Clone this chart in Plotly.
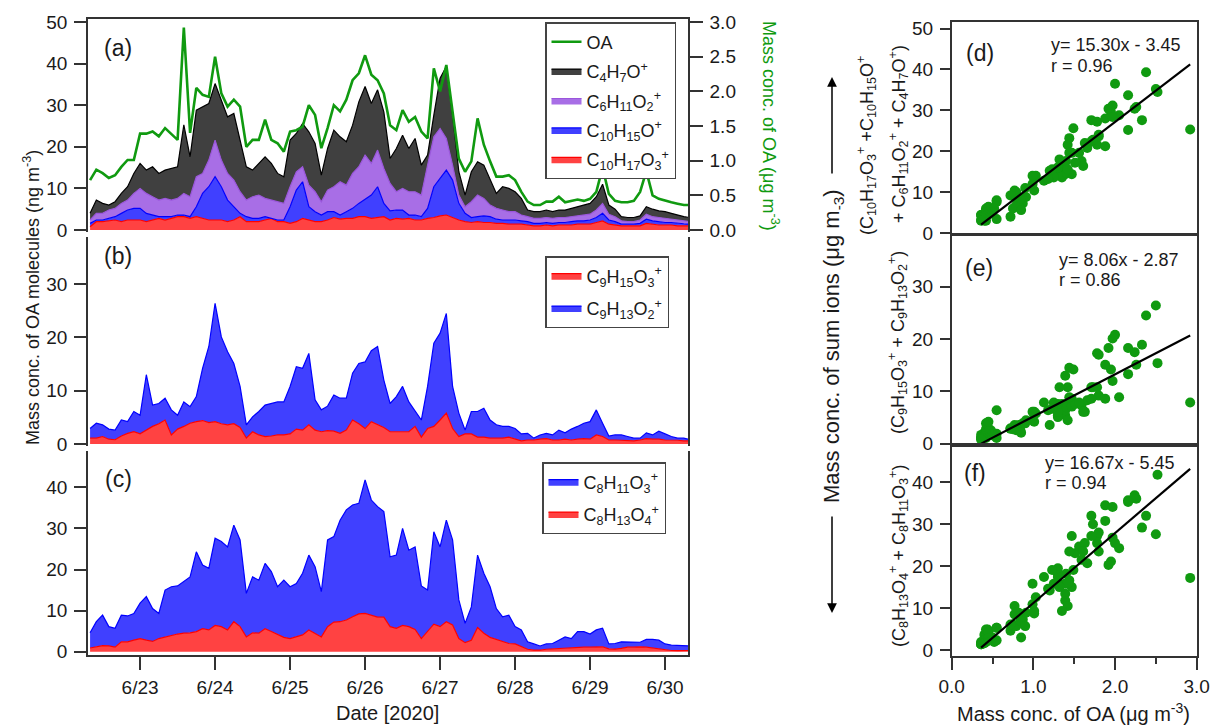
import numpy as np
import pandas as pd
import plotly.graph_objects as go

# ---------------- data (2-hourly, 2020-06-22 08:00 .. 2020-06-30 08:00) ----------------
times = pd.date_range("2020-06-22 08:00", "2020-06-30 08:00", freq="2h")

# OA mass concentration (ug m-3)
OA = [0.72, 0.87, 0.82, 0.75, 0.79, 0.91, 1.01, 1.01,
      1.39, 1.39, 1.42, 1.35, 1.47, 1.39, 1.30, 2.92, 1.40, 2.05, 1.95, 1.92,
      2.50, 1.97, 1.78, 1.88, 1.78, 1.20, 1.30, 1.30, 1.59, 1.30, 1.25, 1.13,
      1.42, 1.44, 1.49, 1.80, 1.66, 1.18, 1.47, 1.80, 1.71, 1.88, 2.16, 2.26,
      2.52, 2.24, 2.16, 1.97, 1.51, 1.44, 1.73, 1.56, 1.63, 1.42, 1.32, 2.33,
      2.00, 2.38, 1.71, 1.03, 0.84, 0.99, 1.61, 1.23, 0.99, 0.77, 0.77, 0.79,
      0.72, 0.55, 0.41, 0.36, 0.36, 0.41, 0.41, 0.48, 0.40, 0.42, 0.44, 0.42,
      0.45, 0.55, 0.90, 0.52, 0.42, 0.40, 0.40, 0.42, 0.55, 0.85, 0.50, 0.45,
      0.42, 0.40, 0.38, 0.36, 0.36]

# panel (a): stacked boundaries (ng m-3)
C10H17O3 = [0.8, 2.0, 2.0, 2.2, 2.4, 2.0, 2.4, 2.4,
            2.4, 2.0, 2.4, 2.8, 2.4, 2.8, 3.2, 3.2, 2.8, 3.2, 2.8, 2.4,
            2.4, 2.4, 2.0, 2.4, 3.2, 2.0, 2.0, 2.0, 2.4, 2.8, 2.0, 2.0,
            1.6, 2.0, 2.8, 2.4, 2.0, 2.0, 2.4, 3.0, 2.6, 2.8, 2.8, 3.2,
            3.2, 2.8, 3.0, 3.2, 2.4, 2.8, 2.6, 2.8, 2.4, 2.4, 2.8, 3.0,
            3.4, 3.6, 3.0, 2.4, 2.0, 1.8, 2.0, 1.8, 1.8, 1.6, 1.6, 1.4,
            1.4, 1.4, 1.2, 1.0, 1.0, 1.2, 1.0, 1.2, 1.2, 1.2, 1.4, 1.4,
            1.4, 1.8, 2.2, 1.4, 1.2, 1.0, 1.0, 1.0, 1.0, 1.6, 1.4, 1.2,
            1.2, 1.2, 1.0, 1.0, 1.0]
upto_C10H15O = [1.6, 2.4, 2.4, 2.8, 3.2, 4.0, 4.8, 5.2,
                5.2, 4.0, 3.6, 3.2, 3.2, 3.2, 3.6, 3.6, 3.2, 5.6, 8.8, 10.4,
                12.8, 10.4, 7.2, 5.6, 4.0, 3.2, 2.8, 2.8, 3.2, 2.8, 2.4, 2.4,
                5.6, 9.6, 11.6, 5.6, 4.4, 3.6, 4.4, 4.4, 3.6, 4.4, 5.2, 6.4,
                7.5, 8.4, 10.4, 6.4, 4.6, 4.8, 4.8, 3.6, 3.6, 3.2, 5.2, 10.4,
                12.4, 14.4, 12.0, 6.4, 4.0, 3.0, 3.2, 3.4, 3.2, 2.6, 2.4, 2.4,
                2.4, 2.2, 2.0, 1.6, 1.6, 1.8, 1.6, 1.8, 1.8, 2.0, 2.2, 2.2,
                2.4, 3.0, 4.0, 2.4, 2.0, 1.4, 1.4, 1.4, 1.6, 2.6, 2.2, 2.0,
                1.8, 1.8, 1.6, 1.5, 1.4]
upto_C6H11O2 = [2.4, 4.0, 4.0, 4.8, 5.2, 6.4, 7.2, 8.8,
                10.0, 8.8, 8.0, 7.2, 7.6, 7.2, 7.6, 8.8, 8.0, 12.8, 13.6, 16.8,
                21.6, 16.8, 13.6, 12.0, 9.2, 7.2, 8.0, 8.4, 7.6, 7.2, 6.8, 6.4,
                10.4, 14.0, 15.2, 10.8, 9.2, 6.8, 9.6, 10.4, 11.6, 10.8, 13.6, 15.2,
                18.0, 16.0, 19.2, 14.8, 11.2, 9.2, 10.0, 9.2, 9.2, 8.4, 15.6, 22.4,
                24.4, 22.0, 15.6, 8.4, 5.6, 6.8, 8.4, 7.6, 6.0, 5.2, 4.8, 4.4,
                4.4, 3.6, 3.2, 2.8, 2.8, 3.0, 2.8, 3.0, 3.0, 3.2, 3.4, 3.6,
                3.8, 4.8, 6.4, 3.8, 3.2, 2.2, 2.0, 2.0, 2.4, 3.8, 3.2, 3.0,
                2.8, 2.6, 2.4, 2.2, 2.0]
upto_C4H7O = [4.0, 7.2, 6.4, 6.0, 6.8, 8.8, 10.4, 13.6,
              16.0, 14.4, 15.2, 13.6, 14.4, 14.8, 15.2, 25.3, 17.6, 28.8, 29.6, 30.4,
              35.2, 31.2, 27.2, 28.0, 21.6, 15.2, 14.4, 16.0, 17.6, 16.0, 13.6, 12.8,
              21.6, 23.2, 25.6, 23.6, 20.8, 13.2, 19.6, 24.0, 22.4, 21.2, 25.2, 30.8,
              34.5, 30.4, 33.7, 28.4, 17.2, 19.6, 22.8, 19.6, 22.0, 15.6, 18.0, 27.6,
              36.5, 39.3, 27.6, 14.0, 8.4, 14.0, 16.4, 15.6, 12.0, 8.8, 10.4, 10.0,
              9.2, 7.6, 4.8, 4.4, 4.4, 4.8, 4.4, 4.8, 4.8, 5.2, 5.6, 6.0,
              6.4, 8.0, 11.0, 6.0, 5.0, 3.2, 3.0, 3.0, 3.4, 5.6, 5.0, 4.6,
              4.4, 4.0, 3.6, 3.2, 3.0]

# panel (b)
C9H15O3 = [1.1, 1.1, 1.4, 0.9, 0.8, 1.5, 2.0, 2.3,
           1.9, 2.6, 3.3, 3.8, 4.5, 1.7, 2.8, 3.3, 3.9, 4.2, 4.4, 4.0,
           4.2, 3.8, 3.6, 3.8, 3.1, 1.1, 2.3, 1.7, 1.4, 1.5, 1.7, 1.7,
           1.9, 2.8, 2.6, 3.6, 2.6, 2.3, 2.5, 2.4, 2.0, 2.6, 4.5, 3.8,
           2.9, 4.2, 3.6, 3.1, 2.3, 2.3, 2.3, 2.3, 3.3, 1.3, 2.9, 3.3,
           4.5, 5.8, 2.9, 1.4, 1.9, 1.9, 1.3, 1.3, 1.1, 1.1, 1.1, 1.3,
           1.0, 0.6, 0.75, 0.75, 0.9, 1.0, 0.75, 0.75, 0.9, 0.75, 0.9, 1.0,
           0.9, 1.7, 1.4, 0.75, 0.75, 0.7, 0.7, 0.6, 0.75, 1.0, 0.9, 0.9,
           0.75, 0.75, 0.7, 0.6, 0.6]
upto_C9H13O2 = [2.9, 3.9, 3.6, 2.8, 2.6, 4.5, 4.2, 6.1,
                5.4, 13.0, 7.3, 7.6, 8.6, 6.4, 5.4, 7.9, 7.0, 8.9, 14.2, 18.3,
                26.4, 20.1, 17.3, 15.1, 10.8, 3.6, 5.1, 6.1, 7.3, 7.6, 7.9, 7.9,
                10.8, 14.5, 14.2, 17.0, 8.3, 6.4, 7.1, 9.2, 8.6, 8.6, 13.3, 15.1,
                15.4, 17.5, 18.3, 12.0, 7.6, 8.9, 10.8, 7.9, 6.1, 4.5, 10.8, 18.9,
                20.8, 24.5, 10.8, 5.8, 2.6, 6.1, 6.1, 6.7, 4.5, 3.6, 3.3, 3.3,
                2.9, 1.9, 2.0, 1.1, 1.7, 2.0, 1.7, 2.6, 2.1, 2.8, 3.3, 3.9,
                4.2, 6.4, 3.9, 1.5, 1.7, 1.7, 1.4, 1.1, 1.1, 2.1, 1.7, 2.4,
                1.9, 1.4, 1.1, 1.1, 0.8]

# panel (c)
C8H13O4 = [0.9, 1.2, 1.5, 1.4, 1.1, 2.4, 2.4, 2.8,
           3.2, 2.8, 2.5, 3.2, 3.6, 4.0, 4.3, 4.5, 4.6, 4.9, 5.6, 5.3,
           6.4, 6.1, 5.3, 7.3, 6.1, 3.6, 4.6, 4.5, 5.6, 4.9, 4.1, 3.5,
           3.2, 3.6, 4.1, 5.3, 4.5, 3.6, 6.1, 7.2, 7.3, 7.7, 8.5, 9.2,
           9.3, 8.8, 8.4, 8.4, 6.1, 5.7, 6.4, 6.1, 5.4, 3.2, 4.9, 6.7,
           6.1, 7.3, 6.5, 3.2, 2.2, 2.8, 5.9, 4.5, 3.5, 3.0, 2.4, 2.0,
           1.9, 1.2, 0.6, 0.4, 0.4, 0.6, 0.7, 0.8, 0.8, 1.0, 1.1, 1.1,
           1.1, 1.2, 1.2, 0.7, 0.65, 0.8, 1.1, 1.1, 1.2, 1.1, 0.9, 0.65,
           0.5, 0.3, 0.25, 0.25, 0.3]
upto_C8H11O3 = [4.6, 7.3, 8.9, 6.1, 5.7, 8.9, 8.7, 9.3,
                11.8, 13.4, 10.5, 9.3, 15.0, 15.8, 16.0, 17.2, 18.2, 24.3, 21.1, 20.3,
                27.6, 26.8, 25.5, 30.8, 27.2, 14.2, 18.2, 17.4, 21.5, 19.5, 15.8, 17.4,
                15.8, 16.6, 19.1, 23.5, 20.7, 14.6, 27.2, 28.0, 32.0, 34.5, 35.7, 36.1,
                41.8, 36.9, 35.3, 34.1, 23.1, 23.5, 30.0, 24.7, 25.5, 16.0, 15.0, 29.2,
                25.5, 32.0, 27.2, 12.6, 6.9, 10.9, 23.5, 19.1, 15.8, 10.5, 8.5, 8.9,
                6.1, 5.3, 2.4, 1.9, 1.4, 1.9, 2.0, 2.8, 3.6, 3.2, 4.9, 4.9,
                4.3, 5.3, 5.7, 1.9, 2.0, 2.4, 2.4, 2.4, 2.3, 3.0, 3.0, 2.8,
                1.9, 1.6, 1.5, 1.4, 1.4]

# linear fits shown in (d), (e), (f): slope, intercept, r
FIT_D = (15.30, -3.45, 0.96)
FIT_E = (8.06, -2.87, 0.86)
FIT_F = (16.67, -5.45, 0.94)

# ---------------- styling ----------------
W, H = 1214, 727
FONT = "Liberation Sans, Arial, sans-serif"
AX = "#333333"
INK = "#1a1a1a"
GREEN = "#109a10"
RED_L, RED_F = "#ff0000", "#ff4242"
BLUE_L, BLUE_F = "#0000ff", "#4040ff"
PUR_L, PUR_F = "#9a55dc", "#a86ee6"
BLK_L, BLK_F = "#000000", "#404040"


def fx(p):
    return p / W


def fy(p):
    return 1 - p / H


OA = np.array(OA)
red_a = np.array(C10H17O3)
blue_a = np.array(upto_C10H15O) - red_a
pur_a = np.array(upto_C6H11O2) - np.array(upto_C10H15O)
blk_a = np.array(upto_C4H7O) - np.array(upto_C6H11O2)
red_b = np.array(C9H15O3)
blue_b = np.array(upto_C9H13O2) - red_b
red_c = np.array(C8H13O4)
blue_c = np.array(upto_C8H11O3) - red_c

fig = go.Figure()


def area(y, group, lc, fc, name, xa, ya, leg, rank):
    fig.add_trace(go.Scatter(x=times, y=y, stackgroup=group, mode="lines",
                             line=dict(color=lc, width=1.2), fillcolor=fc,
                             name=name, legendgroup=name, legendrank=rank,
                             xaxis=xa, yaxis=ya, legend=leg, hoverinfo="skip"))


# (a)  legend order: OA, C4H7O, C6H11O2, C10H15O, C10H17O3
area(red_a, "a", RED_L, RED_F, "C<sub>10</sub>H<sub>17</sub>O<sub>3</sub><sup>+</sup>", "x2", "y2", "legend", 5)
area(blue_a, "a", BLUE_L, BLUE_F, "C<sub>10</sub>H<sub>15</sub>O<sup>+</sup>", "x2", "y2", "legend", 4)
area(pur_a, "a", PUR_L, PUR_F, "C<sub>6</sub>H<sub>11</sub>O<sub>2</sub><sup>+</sup>", "x2", "y2", "legend", 3)
area(blk_a, "a", BLK_L, BLK_F, "C<sub>4</sub>H<sub>7</sub>O<sup>+</sup>", "x2", "y2", "legend", 2)
fig.add_trace(go.Scatter(x=times, y=OA, mode="lines", line=dict(color=GREEN, width=2.6),
                         name="OA", legendgroup="OA", legendrank=1,
                         xaxis="x2", yaxis="y3", legend="legend"))
# (b)
area(red_b, "b", RED_L, RED_F, "C<sub>9</sub>H<sub>15</sub>O<sub>3</sub><sup>+</sup>", "x3", "y4", "legend2", 1)
area(blue_b, "b", BLUE_L, BLUE_F, "C<sub>9</sub>H<sub>13</sub>O<sub>2</sub><sup>+</sup>", "x3", "y4", "legend2", 2)
# (c)
area(red_c, "c", RED_L, RED_F, "C<sub>8</sub>H<sub>13</sub>O<sub>4</sub><sup>+</sup>", "x", "y", "legend3", 2)
area(blue_c, "c", BLUE_L, BLUE_F, "C<sub>8</sub>H<sub>11</sub>O<sub>3</sub><sup>+</sup>", "x", "y", "legend3", 1)

# scatter panels
xfit = np.array([OA.min(), OA.max()])
for ysum, fit, xa, ya in [(upto_C4H7O, FIT_D, "x4", "y5"),
                          (upto_C9H13O2, FIT_E, "x5", "y6"),
                          (upto_C8H11O3, FIT_F, "x6", "y7")]:
    fig.add_trace(go.Scatter(x=OA, y=ysum, mode="markers",
                             marker=dict(color=GREEN, size=10, line=dict(width=0)),
                             xaxis=xa, yaxis=ya, showlegend=False))
    fig.add_trace(go.Scatter(x=xfit, y=fit[0] * xfit + fit[1], mode="lines",
                             line=dict(color="black", width=2.2),
                             xaxis=xa, yaxis=ya, showlegend=False))

# ---------------- axes ----------------
XR = ["2020-06-22 07:20", "2020-06-30 07:20"]
LD = [fx(88), fx(688)]
SD = [fx(951.7), fx(1196.7)]
TF = dict(family=FONT, size=19, color=INK)


def yax(dom, rng, dtick, anchor, mirror=False, **kw):
    d = dict(domain=dom, range=rng, dtick=dtick, anchor=anchor, showline=True,
             linecolor=AX, linewidth=1.5, ticks="outside", ticklen=12, tickwidth=1.5,
             tickcolor=AX, showgrid=False, zeroline=False, mirror=mirror,
             tickfont=TF, ticklabelstandoff=3)
    d.update(kw)
    return d


layout = dict(
    width=W, height=H, margin=dict(l=0, r=0, t=0, b=0, autoexpand=False), autosize=False,
    paper_bgcolor="white", plot_bgcolor="white",
    font=dict(family=FONT, size=18, color=INK),
    # (c) time axis
    xaxis=dict(domain=LD, anchor="y", range=XR, type="date", showline=True, linecolor=AX,
               linewidth=1.5, ticks="outside", ticklen=13, tickwidth=1.5, tickcolor=AX,
               tickformat="%-m/%d", dtick=86400000, tick0="2020-06-23", showgrid=False,
               zeroline=False, tickfont=TF, ticklabelstandoff=1),
    yaxis=yax([fy(655), fy(451)], [-0.80, 48.83], 10, "x", mirror=True),
    # (a)
    xaxis2=dict(domain=LD, anchor="y2", range=XR, type="date", side="top", showline=True,
                linecolor=AX, linewidth=1.5, ticks="", showticklabels=False, showgrid=False,
                zeroline=False),
    yaxis2=yax([fy(232), fy(19)], [-0.48, 50.72], 10, "x2"),
    yaxis3=yax([fy(232), fy(19)], [-0.0288, 3.0432], 0.5, "x2", overlaying="y2",
               side="right", tickformat=".1f", ticklen=13),
    # (b)
    xaxis3=dict(domain=LD, anchor="y4", range=XR, type="date", visible=False),
    yaxis4=yax([fy(446), fy(237)], [-0.375, 38.84], 10, "x3", mirror=True),
    # (d)
    xaxis4=dict(domain=SD, anchor="y5", range=[0, 3], showline=True, mirror=True, linecolor=AX,
                linewidth=1.5, ticks="", showticklabels=False, showgrid=False, zeroline=False),
    yaxis5=yax([fy(234), fy(22)], [-0.24, 51.6], 10, "x4", mirror=True, ticklen=10),
    # (e)
    xaxis5=dict(domain=SD, anchor="y6", range=[0, 3], showline=True, mirror=True, linecolor=AX,
                linewidth=1.5, ticks="", showticklabels=False, showgrid=False, zeroline=False),
    yaxis6=yax([fy(445), fy(235)], [-0.23, 39.87], 10, "x5", mirror=True, ticklen=10),
    # (f)
    xaxis6=dict(domain=SD, anchor="y7", range=[0, 3], showline=True, mirror=True, linecolor=AX,
                linewidth=1.5, ticks="outside", ticklen=12, tickwidth=1.5, tickcolor=AX,
                dtick=1, tickformat=".1f", showgrid=False, zeroline=False, tickfont=TF,
                ticklabelstandoff=0,
                minor=dict(dtick=0.5, ticks="outside", ticklen=6, tickwidth=1.5, tickcolor=AX)),
    yaxis7=yax([fy(656), fy(445)], [-1.43, 48.9], 10, "x6", mirror=True, ticklen=10),
)

LEG = dict(bgcolor="white", bordercolor="#444", borderwidth=1.5,
           font=dict(family=FONT, size=18, color=INK), xanchor="left", yanchor="top",
           itemwidth=30, traceorder="grouped")
layout["legend"] = dict(LEG, x=fx(545), y=fy(22), tracegroupgap=3)
layout["legend2"] = dict(LEG, x=fx(545), y=fy(256), tracegroupgap=6)
layout["legend3"] = dict(LEG, x=fx(542), y=fy(462), tracegroupgap=6)
fig.update_layout(**layout)

# ---------------- annotations ----------------
ann = []


def txt(x, y, s, size=18, angle=0, color=INK, xanchor="center"):
    ann.append(dict(x=fx(x), y=fy(y), xref="paper", yref="paper", text=s, showarrow=False,
                    textangle=angle, xanchor=xanchor, yanchor="middle",
                    font=dict(family=FONT, size=size, color=color)))


for lab, x, y in [("(a)", 118, 48), ("(b)", 118, 256), ("(c)", 118, 479),
                  ("(d)", 980, 53), ("(e)", 979, 268), ("(f)", 975, 473)]:
    txt(x, y, lab, size=23)

for fit, x, y1, y2 in [(FIT_D, 1049, 45, 66), (FIT_E, 1057, 260, 280), (FIT_F, 1043, 463, 483)]:
    sign = "-" if fit[1] < 0 else "+"
    txt(x, y1, f"y= {fit[0]:.2f}x {sign} {abs(fit[1]):.2f}", size=18, xanchor="left")
    txt(x, y2, f"r = {fit[2]:.2f}", size=18, xanchor="left")

txt(31, 298, "Mass conc. of OA molecules (ng m<sup>-3</sup>)", size=18, angle=-90)
txt(771, 126, "Mass conc. of OA (μg m<sup>-3</sup>)", size=18, angle=90, color=GREEN)
txt(388, 713, "Date [2020]", size=20)
txt(1073, 712, "Mass conc. of OA (μg m<sup>-3</sup>)", size=20)
txt(833, 346, "Mass conc. of sum ions (μg m<sub>-3</sub>)", size=22, angle=-90)
txt(866, 146, "(C<sub>10</sub>H<sub>17</sub>O<sub>3</sub><sup>+</sup> +C<sub>10</sub>H<sub>15</sub>O<sup>+</sup>", size=18, angle=-90)
txt(898, 134, "+ C<sub>6</sub>H<sub>11</sub>O<sub>2</sub><sup>+</sup> + C<sub>4</sub>H<sub>7</sub>O<sup>+</sup>)", size=18, angle=-90)
txt(898, 343, "(C<sub>9</sub>H<sub>15</sub>O<sub>3</sub><sup>+</sup> + C<sub>9</sub>H<sub>13</sub>O<sub>2</sub><sup>+</sup>)", size=18, angle=-90)
txt(898, 556, "(C<sub>8</sub>H<sub>13</sub>O<sub>4</sub><sup>+</sup> + C<sub>8</sub>H<sub>11</sub>O<sub>3</sub><sup>+</sup>)", size=18, angle=-90)

# arrows beside the shared scatter y title (offsets in pixels from the head)
for head, offset in [(77, 98), (613, -98)]:
    ann.append(dict(x=fx(832), y=fy(head), xref="paper", yref="paper",
                    ax=0, ay=offset, axref="pixel", ayref="pixel",
                    text="", showarrow=True, arrowhead=2, arrowsize=1.3, arrowwidth=1.5,
                    arrowcolor="black"))

fig.update_layout(annotations=ann)
fig.write_html("out.html")
